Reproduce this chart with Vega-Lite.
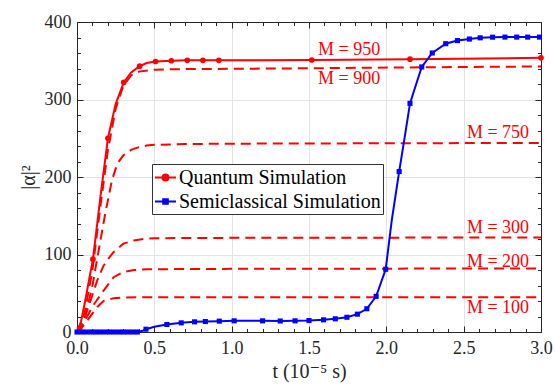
{
  "$schema": "https://vega.github.io/schema/vega-lite/v6.json",
  "width": 464,
  "height": 310,
  "autosize": {"type": "none"},
  "padding": {"left": 77, "top": 22, "right": 14, "bottom": 54},
  "background": "white",
  "config": {
    "view": {"stroke": null},
    "axis": {
      "labelFont": "Liberation Serif, DejaVu Serif, serif",
      "titleFont": "Liberation Serif, DejaVu Serif, serif",
      "labelFontSize": 18,
      "titleFontSize": 20,
      "titleFontWeight": "normal",
      "labelColor": "#262626",
      "titleColor": "#262626",
      "tickColor": "#262626",
      "domainColor": "#262626",
      "domainWidth": 1,
      "tickWidth": 1,
      "labelFlush": false,
      "labelOverlap": false,
      "gridColor": "#e3e3e3",
      "gridWidth": 1
    }
  },
  "datasets": {
    "dashed": [
      {"M": 900, "t": 0, "v": 0}, {"M": 900, "t": 0.05, "v": 25}, {"M": 900, "t": 0.1, "v": 80}, {"M": 900, "t": 0.15, "v": 160}, {"M": 900, "t": 0.2, "v": 235}, {"M": 900, "t": 0.25, "v": 288}, {"M": 900, "t": 0.3, "v": 318}, {"M": 900, "t": 0.35, "v": 331}, {"M": 900, "t": 0.4, "v": 336}, {"M": 900, "t": 0.5, "v": 338.5}, {"M": 900, "t": 0.7, "v": 339.3}, {"M": 900, "t": 1.0, "v": 339.6}, {"M": 900, "t": 1.5, "v": 340.3}, {"M": 900, "t": 2.0, "v": 341.2}, {"M": 900, "t": 2.5, "v": 342}, {"M": 900, "t": 3.0, "v": 342.6},
      {"M": 750, "t": 0, "v": 0}, {"M": 750, "t": 0.05, "v": 18}, {"M": 750, "t": 0.1, "v": 60}, {"M": 750, "t": 0.14, "v": 105}, {"M": 750, "t": 0.18, "v": 150}, {"M": 750, "t": 0.225, "v": 195}, {"M": 750, "t": 0.26, "v": 217}, {"M": 750, "t": 0.3, "v": 228}, {"M": 750, "t": 0.35, "v": 235}, {"M": 750, "t": 0.4, "v": 238.5}, {"M": 750, "t": 0.45, "v": 240.5}, {"M": 750, "t": 0.5, "v": 241.5}, {"M": 750, "t": 0.7, "v": 242.5}, {"M": 750, "t": 1.0, "v": 243}, {"M": 750, "t": 2.0, "v": 243.5}, {"M": 750, "t": 3.0, "v": 244},
      {"M": 300, "t": 0, "v": 0}, {"M": 300, "t": 0.05, "v": 18}, {"M": 300, "t": 0.1, "v": 48}, {"M": 300, "t": 0.13, "v": 66}, {"M": 300, "t": 0.17, "v": 85}, {"M": 300, "t": 0.2, "v": 94}, {"M": 300, "t": 0.236, "v": 103}, {"M": 300, "t": 0.3, "v": 114}, {"M": 300, "t": 0.366, "v": 118}, {"M": 300, "t": 0.43, "v": 120}, {"M": 300, "t": 0.5, "v": 121}, {"M": 300, "t": 1.0, "v": 121.5}, {"M": 300, "t": 3.0, "v": 122},
      {"M": 200, "t": 0, "v": 0}, {"M": 200, "t": 0.05, "v": 14}, {"M": 200, "t": 0.1, "v": 33}, {"M": 200, "t": 0.172, "v": 53.5}, {"M": 200, "t": 0.237, "v": 70.7}, {"M": 200, "t": 0.3, "v": 77.5}, {"M": 200, "t": 0.37, "v": 80}, {"M": 200, "t": 0.45, "v": 81}, {"M": 200, "t": 1.0, "v": 81.5}, {"M": 200, "t": 3.0, "v": 82},
      {"M": 100, "t": 0, "v": 0}, {"M": 100, "t": 0.05, "v": 10}, {"M": 100, "t": 0.1, "v": 24}, {"M": 100, "t": 0.13, "v": 32}, {"M": 100, "t": 0.172, "v": 40}, {"M": 100, "t": 0.236, "v": 43.5}, {"M": 100, "t": 0.3, "v": 44.5}, {"M": 100, "t": 0.5, "v": 45}, {"M": 100, "t": 3.0, "v": 45}
    ],
    "qline": [
      {"t": 0, "v": 0}, {"t": 0.017, "v": 5}, {"t": 0.05, "v": 37}, {"t": 0.103, "v": 94}, {"t": 0.15, "v": 172}, {"t": 0.2, "v": 250}, {"t": 0.25, "v": 294}, {"t": 0.302, "v": 322}, {"t": 0.35, "v": 335}, {"t": 0.405, "v": 343}, {"t": 0.45, "v": 347}, {"t": 0.508, "v": 349}, {"t": 0.61, "v": 350}, {"t": 0.713, "v": 350.5}, {"t": 0.814, "v": 350.5}, {"t": 0.917, "v": 350.5}, {"t": 1.2, "v": 350.7}, {"t": 1.518, "v": 351}, {"t": 2.153, "v": 352}, {"t": 3.0, "v": 353.8}
    ],
    "qpts": [
      {"t": 0.017, "v": 5}, {"t": 0.103, "v": 94}, {"t": 0.2, "v": 250}, {"t": 0.302, "v": 322}, {"t": 0.405, "v": 343}, {"t": 0.508, "v": 349}, {"t": 0.61, "v": 350}, {"t": 0.713, "v": 350.5}, {"t": 0.814, "v": 350.5}, {"t": 0.917, "v": 350.5}, {"t": 1.518, "v": 351}, {"t": 2.153, "v": 352}, {"t": 3.0, "v": 353.8}
    ],
    "sline": [
      {"t": 0, "v": 0}, {"t": 0.39, "v": 0}, {"t": 0.42, "v": 1.2}, {"t": 0.446, "v": 3.6}, {"t": 0.5, "v": 6.8}, {"t": 0.581, "v": 9.7}, {"t": 0.674, "v": 11.8}, {"t": 0.76, "v": 13.1}, {"t": 0.83, "v": 13.5}, {"t": 0.92, "v": 14}, {"t": 1.016, "v": 14.4}, {"t": 1.2, "v": 14.4}, {"t": 1.314, "v": 14.2}, {"t": 1.41, "v": 14.4}, {"t": 1.5, "v": 14.8}, {"t": 1.594, "v": 15.7}, {"t": 1.67, "v": 17}, {"t": 1.745, "v": 19}, {"t": 1.813, "v": 23}, {"t": 1.874, "v": 30}, {"t": 1.934, "v": 46}, {"t": 1.996, "v": 81}, {"t": 2.035, "v": 144}, {"t": 2.083, "v": 207}, {"t": 2.12, "v": 253}, {"t": 2.153, "v": 295}, {"t": 2.19, "v": 318}, {"t": 2.229, "v": 342}, {"t": 2.297, "v": 360}, {"t": 2.384, "v": 372}, {"t": 2.46, "v": 376}, {"t": 2.537, "v": 378}, {"t": 2.607, "v": 379.6}, {"t": 2.687, "v": 380.4}, {"t": 2.767, "v": 380.5}, {"t": 2.843, "v": 380.5}, {"t": 2.914, "v": 380.5}, {"t": 2.99, "v": 380.5}, {"t": 3.0, "v": 380.5}
    ],
    "spts": [
      {"t": 0, "v": 0}, {"t": 0.03, "v": 0}, {"t": 0.06, "v": 0}, {"t": 0.09, "v": 0}, {"t": 0.12, "v": 0}, {"t": 0.15, "v": 0}, {"t": 0.18, "v": 0}, {"t": 0.21, "v": 0}, {"t": 0.24, "v": 0}, {"t": 0.27, "v": 0}, {"t": 0.3, "v": 0}, {"t": 0.33, "v": 0}, {"t": 0.36, "v": 0}, {"t": 0.39, "v": 0},
      {"t": 0.446, "v": 3.6}, {"t": 0.581, "v": 9.7}, {"t": 0.674, "v": 11.8}, {"t": 0.76, "v": 13.1}, {"t": 0.83, "v": 13.5}, {"t": 0.92, "v": 14}, {"t": 1.016, "v": 14.4}, {"t": 1.2, "v": 14.4}, {"t": 1.314, "v": 14.2}, {"t": 1.41, "v": 14.4}, {"t": 1.5, "v": 14.8}, {"t": 1.594, "v": 15.7}, {"t": 1.67, "v": 17}, {"t": 1.745, "v": 19}, {"t": 1.813, "v": 23}, {"t": 1.874, "v": 30}, {"t": 1.934, "v": 46}, {"t": 1.996, "v": 81}, {"t": 2.083, "v": 207}, {"t": 2.153, "v": 295}, {"t": 2.229, "v": 342}, {"t": 2.297, "v": 360}, {"t": 2.384, "v": 372}, {"t": 2.46, "v": 376}, {"t": 2.537, "v": 378}, {"t": 2.607, "v": 379.6}, {"t": 2.687, "v": 380.4}, {"t": 2.767, "v": 380.5}, {"t": 2.843, "v": 380.5}, {"t": 2.914, "v": 380.5}, {"t": 2.99, "v": 380.5}
    ],
    "labels": [
      {"label": "M = 950", "t": 1.759, "v": 356.8},
      {"label": "M = 900", "t": 1.759, "v": 320.6},
      {"label": "M = 750", "t": 2.722, "v": 249.7},
      {"label": "M = 300", "t": 2.722, "v": 127.1},
      {"label": "M = 200", "t": 2.722, "v": 84.5},
      {"label": "M = 100", "t": 2.722, "v": 23.9}
    ],
    "legend": [
      {"series": "Quantum Simulation", "t": 1, "v": 200},
      {"series": "Semiclassical Simulation", "t": 1, "v": 200}
    ]
  },
  "resolve": {"axis": {"x": "independent", "y": "independent"}},
  "layer": [
    {
      "data": {"name": "dashed"},
      "mark": {"type": "line", "color": "#ff0000", "strokeWidth": 2, "strokeDash": [10, 6]},
      "encoding": {
        "x": {"field": "t", "type": "quantitative", "scale": {"domain": [0, 3], "nice": false, "zero": false},
          "axis": {"orient": "bottom", "values": [0, 0.5, 1, 1.5, 2, 2.5, 3], "format": ".1f", "ticks": false, "grid": true, "domain": true, "labelPadding": 7, "title": "t (10⁻⁵ s)", "titlePadding": 4}},
        "y": {"field": "v", "type": "quantitative", "scale": {"domain": [0, 400], "nice": false},
          "axis": {"orient": "left", "values": [0, 100, 200, 300, 400], "ticks": false, "grid": true, "domain": true, "labelPadding": 6, "title": "|α|²", "titlePadding": 6}},
        "detail": {"field": "M", "type": "nominal"}
      }
    },
    {
      "data": {"name": "qline"},
      "mark": {"type": "line", "color": "#ff0000", "strokeWidth": 2},
      "encoding": {
        "x": {"field": "t", "type": "quantitative", "scale": {"domain": [0, 3], "nice": false, "zero": false},
          "axis": {"orient": "bottom", "values": [0, 0.5, 1, 1.5, 2, 2.5, 3], "labels": false, "domain": false, "grid": false, "ticks": true, "tickSize": -6, "title": null}},
        "y": {"field": "v", "type": "quantitative", "scale": {"domain": [0, 400], "nice": false},
          "axis": {"orient": "left", "values": [0, 100, 200, 300, 400], "labels": false, "domain": false, "grid": false, "ticks": true, "tickSize": -6, "title": null}}
      }
    },
    {
      "data": {"name": "qpts"},
      "mark": {"type": "point", "shape": "circle", "filled": true, "color": "#ff0000", "opacity": 1, "size": 32},
      "encoding": {
        "x": {"field": "t", "type": "quantitative", "scale": {"domain": [0, 3], "nice": false, "zero": false},
          "axis": {"orient": "bottom", "values": [0.1, 0.2, 0.3, 0.4, 0.6, 0.7, 0.8, 0.9, 1.1, 1.2, 1.3, 1.4, 1.6, 1.7, 1.8, 1.9, 2.1, 2.2, 2.3, 2.4, 2.6, 2.7, 2.8, 2.9], "labels": false, "domain": false, "grid": false, "ticks": true, "tickSize": -3.5, "title": null}},
        "y": {"field": "v", "type": "quantitative", "scale": {"domain": [0, 400], "nice": false},
          "axis": {"orient": "left", "values": [20, 40, 60, 80, 120, 140, 160, 180, 220, 240, 260, 280, 320, 340, 360, 380], "labels": false, "domain": false, "grid": false, "ticks": true, "tickSize": -3.5, "title": null}}
      }
    },
    {
      "data": {"name": "sline"},
      "mark": {"type": "line", "color": "#0000ff", "strokeWidth": 2},
      "encoding": {
        "x": {"field": "t", "type": "quantitative", "scale": {"domain": [0, 3], "nice": false, "zero": false},
          "axis": {"orient": "top", "values": [0, 0.5, 1, 1.5, 2, 2.5, 3], "labels": false, "domain": true, "grid": false, "ticks": true, "tickSize": -6, "title": null}},
        "y": {"field": "v", "type": "quantitative", "scale": {"domain": [0, 400], "nice": false},
          "axis": {"orient": "right", "values": [0, 100, 200, 300, 400], "labels": false, "domain": true, "grid": false, "ticks": true, "tickSize": -6, "title": null}}
      }
    },
    {
      "data": {"name": "spts"},
      "mark": {"type": "point", "shape": "square", "filled": true, "color": "#0000ff", "opacity": 1, "size": 26},
      "encoding": {
        "x": {"field": "t", "type": "quantitative", "scale": {"domain": [0, 3], "nice": false, "zero": false},
          "axis": {"orient": "top", "values": [0.1, 0.2, 0.3, 0.4, 0.6, 0.7, 0.8, 0.9, 1.1, 1.2, 1.3, 1.4, 1.6, 1.7, 1.8, 1.9, 2.1, 2.2, 2.3, 2.4, 2.6, 2.7, 2.8, 2.9], "labels": false, "domain": false, "grid": false, "ticks": true, "tickSize": -3.5, "title": null}},
        "y": {"field": "v", "type": "quantitative", "scale": {"domain": [0, 400], "nice": false},
          "axis": {"orient": "right", "values": [20, 40, 60, 80, 120, 140, 160, 180, 220, 240, 260, 280, 320, 340, 360, 380], "labels": false, "domain": false, "grid": false, "ticks": true, "tickSize": -3.5, "title": null}}
      }
    },
    {
      "data": {"name": "labels"},
      "mark": {"type": "text", "color": "#ff0000", "font": "Liberation Serif, DejaVu Serif, serif", "fontSize": 18, "align": "center", "baseline": "alphabetic"},
      "encoding": {
        "x": {"field": "t", "type": "quantitative", "scale": {"domain": [0, 3], "nice": false, "zero": false}, "axis": null},
        "y": {"field": "v", "type": "quantitative", "scale": {"domain": [0, 400], "nice": false}, "axis": null},
        "text": {"field": "label"}
      }
    },
    {
      "data": {"name": "legend"},
      "mark": {"type": "point", "filled": true, "opacity": 0, "size": 441},
      "encoding": {
        "x": {"field": "t", "type": "quantitative", "scale": {"domain": [0, 3], "nice": false, "zero": false}, "axis": null},
        "y": {"field": "v", "type": "quantitative", "scale": {"domain": [0, 400], "nice": false}, "axis": null},
        "color": {"field": "series", "type": "nominal",
          "scale": {"domain": ["Quantum Simulation", "Semiclassical Simulation"], "range": ["#ff0000", "#0000ff"]},
          "legend": {
            "title": null, "orient": "none", "legendX": 75, "legendY": 142,
            "symbolSize": 441, "symbolStrokeWidth": 2, "symbolOpacity": 1,
            "labelFont": "Liberation Serif, DejaVu Serif, serif", "labelFontSize": 20, "labelColor": "#000000", "labelOffset": 2, "labelLimit": 400,
            "padding": 2, "rowPadding": 2, "strokeColor": "#333333", "fillColor": "#ffffff", "cornerRadius": 0,
            "encode": {"symbols": {"update": {"opacity": {"value": 1}, "fillOpacity": {"value": 1}, "strokeOpacity": {"value": 1}, "stroke": {"scale": "color", "field": "value"}, "strokeWidth": {"value": 2}}}}
          }
        },
        "shape": {"field": "series", "type": "nominal",
          "scale": {"domain": ["Quantum Simulation", "Semiclassical Simulation"],
            "range": ["M-1,0L1,0M0.28,0A0.28,0.28,0,1,1,-0.28,0A0.28,0.28,0,1,1,0.28,0Z", "M-1,0L1,0M-0.22,-0.22L0.22,-0.22L0.22,0.22L-0.22,0.22Z"]},
          "legend": {
            "title": null, "orient": "none", "legendX": 75, "legendY": 142,
            "symbolSize": 441, "symbolStrokeWidth": 2, "symbolOpacity": 1,
            "labelFont": "Liberation Serif, DejaVu Serif, serif", "labelFontSize": 20, "labelColor": "#000000", "labelOffset": 2, "labelLimit": 400,
            "padding": 2, "rowPadding": 2, "strokeColor": "#333333", "fillColor": "#ffffff", "cornerRadius": 0,
            "encode": {"symbols": {"update": {"opacity": {"value": 1}, "fillOpacity": {"value": 1}, "strokeOpacity": {"value": 1}, "stroke": {"scale": "color", "field": "value"}, "strokeWidth": {"value": 2}}}}
          }
        }
      }
    }
  ]
}
